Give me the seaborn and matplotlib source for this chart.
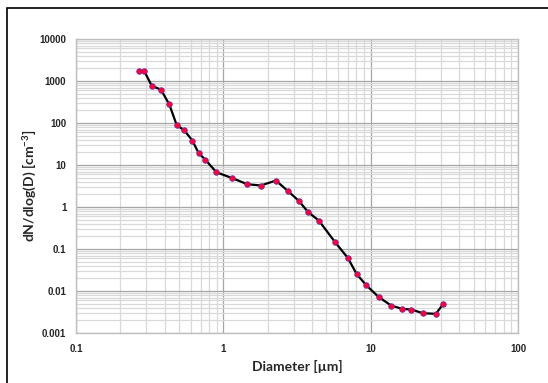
import matplotlib
matplotlib.use("Agg")
import matplotlib.pyplot as plt
import seaborn as sns
import pandas as pd
import numpy as np
from matplotlib.ticker import LogLocator, FixedLocator, FixedFormatter, NullFormatter
from matplotlib.patches import Rectangle

diameter = [0.267, 0.2915, 0.327, 0.377, 0.430, 0.482, 0.543, 0.616, 0.680, 0.754,
            0.898, 1.154, 1.452, 1.797, 2.273, 2.767, 3.26, 3.756, 4.45, 5.75,
            7.0, 8.02, 9.30, 11.32, 13.77, 16.32, 18.91, 22.6, 27.7, 31.1]
dndlogd = [1754, 1690, 762, 624, 276, 89.8, 67, 38.3, 19.2, 13.4,
           6.71, 4.84, 3.49, 3.25, 4.27, 2.34, 1.39, 0.762, 0.475, 0.1436,
           0.0612, 0.0256, 0.01387, 0.00721, 0.00451, 0.00376, 0.00362, 0.00296, 0.00286, 0.00493]

x_ticks = [0.1, 1, 10, 100]
x_tick_labels = ["0.1", "1", "10", "100"]
y_ticks = [0.001, 0.01, 0.1, 1, 10, 100, 1000, 10000]
y_tick_labels = ["0.001", "0.01", "0.1", "1", "10", "100", "1000", "10000"]

df = pd.DataFrame({"Diameter": diameter, "dN": dndlogd})

sns.set_style("white")
plt.rcParams["font.family"] = ["Liberation Sans", "DejaVu Sans"]

W, H = 548, 383
fig = plt.figure(figsize=(W / 100, H / 100), dpi=100)
ax = fig.add_axes([76 / W, 1 - 333 / H, (518 - 76) / W, (333 - 39) / H])

ax.set_xscale("log")
ax.set_yscale("log")
ax.set_xlim(0.1, 100)
ax.set_ylim(0.001, 10000)

ax.xaxis.set_major_locator(FixedLocator(x_ticks))
ax.xaxis.set_major_formatter(FixedFormatter(x_tick_labels))
ax.yaxis.set_major_locator(FixedLocator(y_ticks))
ax.yaxis.set_major_formatter(FixedFormatter(y_tick_labels))
ax.xaxis.set_minor_locator(LogLocator(base=10, subs=np.arange(2, 10)))
ax.yaxis.set_minor_locator(LogLocator(base=10, subs=np.arange(2, 10)))
ax.xaxis.set_minor_formatter(NullFormatter())
ax.yaxis.set_minor_formatter(NullFormatter())

ax.grid(which="minor", color="#d9d9d9", linewidth=0.9)
ax.grid(which="major", color="#a6a6a6", linewidth=0.9)
ax.set_axisbelow(True)

for s in ax.spines.values():
    s.set_color("#bfbfbf")
    s.set_linewidth(1.0)

ax.tick_params(axis="x", which="both", length=0, pad=8, labelsize=7)
ax.tick_params(axis="y", which="major", length=4, color="#bfbfbf", pad=3, labelsize=7)
ax.tick_params(axis="y", which="minor", length=0)
for lab in ax.get_xticklabels() + ax.get_yticklabels():
    lab.set_fontweight("bold")
    lab.set_color("#262626")

sns.lineplot(data=df, x="Diameter", y="dN", ax=ax, color="black", linewidth=1.6,
             marker="o", markersize=4, markerfacecolor="#ff0033",
             markeredgecolor="#7030a0", markeredgewidth=0.6, zorder=3)

ax.set_xlabel("Diameter [µm]", fontsize=10, fontweight="bold", labelpad=4,
              family=["Lato", "DejaVu Sans"])
ax.set_ylabel("dN/dlog(D) [cm$^{\\mathregular{-3}}$]", fontsize=10, fontweight="bold",
              labelpad=1, family=["Lato", "DejaVu Sans"])

fig.patches.append(Rectangle((7 / W, -0.1), 1.2, 1 - 8 / H + 0.1, transform=fig.transFigure,
                             fill=False, edgecolor="black", linewidth=1.2))

fig.savefig("out.png", dpi=100)
